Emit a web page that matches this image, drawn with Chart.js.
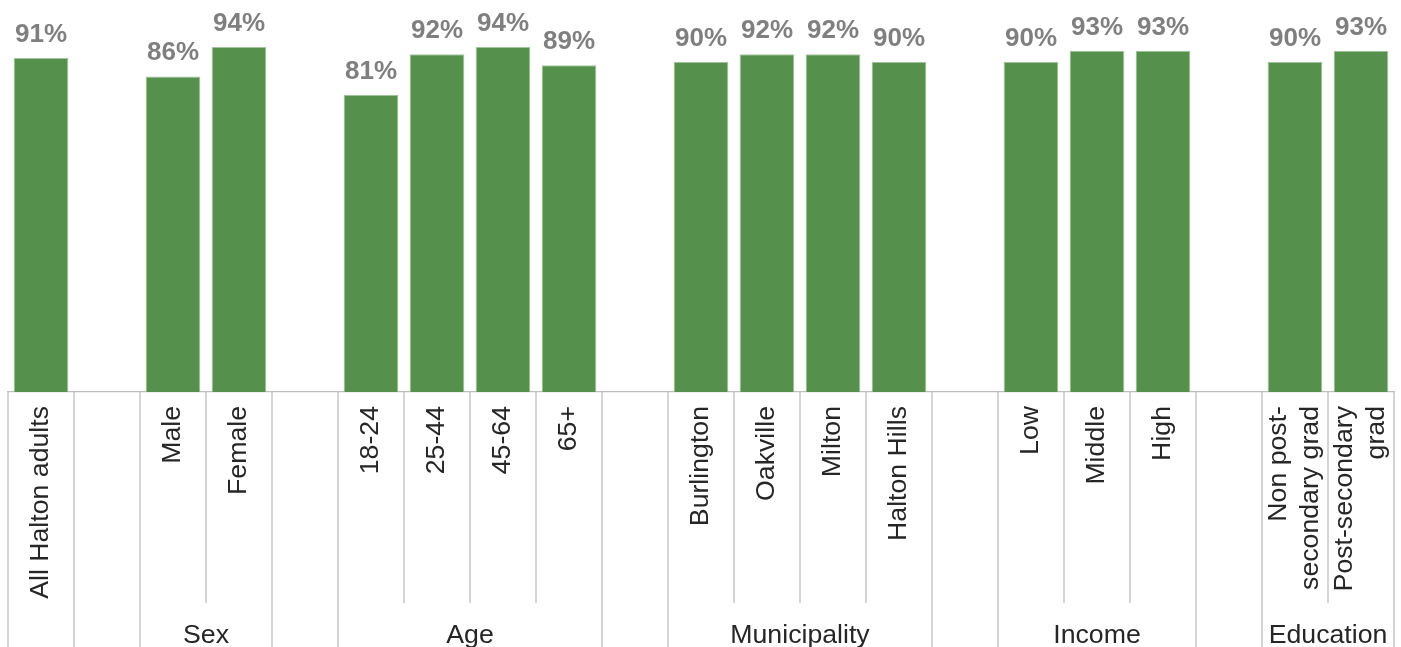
<!DOCTYPE html>
<html>
<head>
<meta charset="utf-8">
<script src="https://cdn.jsdelivr.net/npm/chart.js@4"></script>
<style>
  html, body { margin: 0; padding: 0; background: #fff; }
  #wrap { width: 1401px; height: 647px; position: relative; }
</style>
</head>
<body>
<div id="wrap"><canvas id="chart"></canvas></div>
<script>
// Categories (empty strings are the gaps between groups)
const categories = [
    'All Halton adults', '',
    'Male', 'Female', '',
    '18-24', '25-44', '45-64', '65+', '',
    'Burlington', 'Oakville', 'Milton', 'Halton Hills', '',
    'Low', 'Middle', 'High', '',
    ['Non post-', 'secondary grad'], ['Post-secondary', 'grad']
];

// Group each category belongs to ('' = no group)
const groups = [
    '', '',
    'Sex', 'Sex', '',
    'Age', 'Age', 'Age', 'Age', '',
    'Municipality', 'Municipality', 'Municipality', 'Municipality', '',
    'Income', 'Income', 'Income', '',
    'Education', 'Education'
];

// Percent values
const values = [
    91, null,
    86, 94, null,
    81, 92, 94, 89, null,
    90, 92, 92, 90, null,
    90, 93, 93, null,
    90, 93
];

const FONT = '"Liberation Sans", Arial, sans-serif';
const LINE_COLOR = '#bfbfbf';

// Group names with the centre index of their members
function groupCentres() {
    const list = [];
    groups.forEach((g, i) => {
        if (!g) return;
        let item = list.find(x => x.name === g);
        if (!item) {
            item = { name: g, idx: [] };
            list.push(item);
        }
        item.idx.push(i);
    });
    return list.map(g => ({ name: g.name, value: g.idx.reduce((a, b) => a + b, 0) / g.idx.length }));
}

// Value labels above the bars
const valueLabels = {
    id: 'valueLabels',
    afterDatasetsDraw(chart) {
        const ctx = chart.ctx;
        const meta = chart.getDatasetMeta(0);
        ctx.save();
        ctx.font = 'bold 26px ' + FONT;
        ctx.fillStyle = '#7f7f7f';
        ctx.textAlign = 'center';
        ctx.textBaseline = 'alphabetic';
        meta.data.forEach((bar, i) => {
            if (values[i] == null) return;
            ctx.fillText(values[i] + '%', bar.x, bar.y - 16);
        });
        ctx.restore();
    }
};

// Separator lines between categories and groups
const separators = {
    id: 'separators',
    beforeDraw(chart) {
        // centre two-line labels on their category
        const xs = chart.scales.x;
        const items = xs.getLabelItems(chart.chartArea);
        items.forEach(item => {
            if (Array.isArray(item.label) && item.label.length > 1) {
                const lh = item.font.lineHeight;
                item.options.translation[0] -= lh * (item.label.length - 1) / 2;
            }
        });
    },
    afterDraw(chart) {
        const ctx = chart.ctx;
        const xs = chart.scales.x;
        const top = chart.chartArea.bottom;
        ctx.save();
        ctx.strokeStyle = LINE_COLOR;
        ctx.lineWidth = 1.3;
        for (let b = 0; b <= categories.length; b++) {
            const inner = b > 0 && b < categories.length && groups[b - 1] !== '' && groups[b - 1] === groups[b];
            const x = xs.getPixelForValue(b - 0.5);
            const bottom = inner ? xs.bottom : chart.height;
            ctx.beginPath();
            ctx.moveTo(x, top);
            ctx.lineTo(x, bottom);
            ctx.stroke();
        }
        ctx.restore();
    }
};

const centres = groupCentres();

new Chart(document.getElementById('chart'), {
    type: 'bar',
    data: {
        labels: categories,
        datasets: [{
            data: values,
            backgroundColor: '#55904c',
            borderColor: '#a4c49f',
            borderWidth: 1,
            categoryPercentage: 1,
            barPercentage: 0.83
        }]
    },
    options: {
        responsive: true,
        maintainAspectRatio: false,
        animation: false,
        events: [],
        layout: { padding: { top: 25, left: 8, right: 7, bottom: 0 } },
        plugins: {
            legend: { display: false },
            tooltip: { enabled: false }
        },
        scales: {
            y: {
                display: false,
                min: 0,
                max: 100
            },
            x: {
                type: 'category',
                offset: true,
                grid: { display: false, drawTicks: false },
                border: { display: true, color: LINE_COLOR, width: 1.3 },
                ticks: {
                    autoSkip: false,
                    minRotation: 90,
                    maxRotation: 90,
                    padding: 14,
                    color: '#262626',
                    font: { family: FONT, size: 26.7 }
                },
                afterFit(scale) {
                    scale.height = 211;
                    scale.paddingLeft = 0;
                    scale.paddingRight = 0;
                }
            },
            x2: {
                type: 'linear',
                position: 'bottom',
                offset: false,
                min: -0.5,
                max: categories.length - 0.5,
                grid: { display: false, drawTicks: false, offset: false },
                border: { display: false },
                afterBuildTicks(scale) {
                    scale.ticks = centres.map(c => ({ value: c.value }));
                },
                ticks: {
                    autoSkip: false,
                    maxRotation: 0,
                    padding: 17,
                    color: '#262626',
                    font: { family: FONT, size: 26.7 },
                    callback(value) {
                        const c = centres.find(g => g.value === value);
                        return c ? c.name : '';
                    }
                },
                afterFit(scale) {
                    scale.height = 44;
                    scale.paddingLeft = 0;
                    scale.paddingRight = 0;
                }
            }
        }
    },
    plugins: [valueLabels, separators]
});
</script>
</body>
</html>
